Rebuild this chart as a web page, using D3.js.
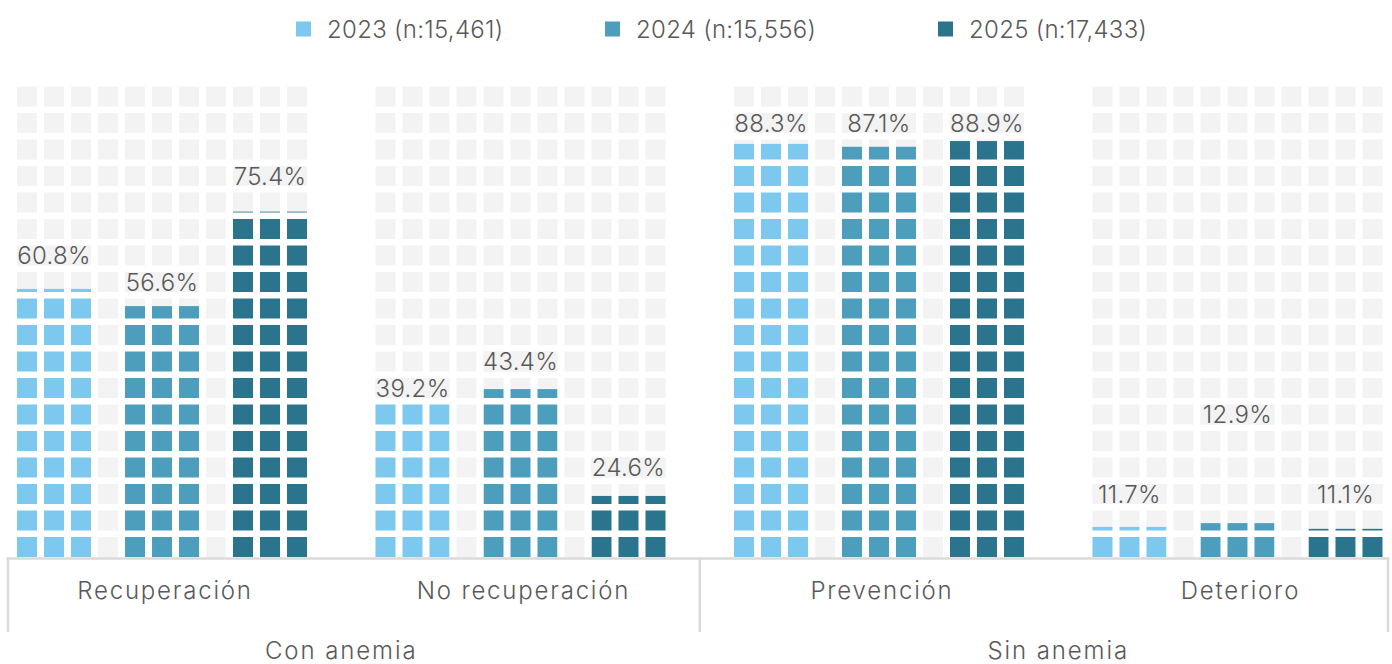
<!DOCTYPE html>
<html><head><meta charset="utf-8">
<script src="https://cdn.jsdelivr.net/npm/d3@7"></script>
<style>
html,body{margin:0;padding:0;background:#fff;}
svg{display:block;font-family:Inter,"Noto Sans",sans-serif;font-weight:300;}
</style></head><body>
<svg id="chart" width="1392" height="664"></svg>
<script>
// ---------- data ----------
const categories = ["Recuperación", "No recuperación", "Prevención", "Deterioro"];
const parentGroups = ["Con anemia", "Con anemia", "Sin anemia", "Sin anemia"];
const superGroups = ["Con anemia", "Sin anemia"];
const years = ["2023", "2024", "2025"];
const sampleSizes = ["15,461", "15,556", "17,433"];
// printed percentages
const pct2023 = [60.8, 39.2, 88.3, 11.7];
const pct2024 = [56.6, 43.4, 87.1, 12.9];
const pct2025 = [75.4, 24.6, 88.9, 11.1];
// fill level of each bar as drawn in the reference (% of the square grid height)
const fill2023 = [56.2, 32.5, 86.6, 6.3];
const fill2024 = [52.6, 35.2, 86.0, 7.1];
const fill2025 = [72.4, 12.8, 87.2, 5.9];

// ---------- styles / layout ----------
const yearColors = ["#7cc8ee", "#4d9ebd", "#2a758d"];
const gridGray = "#f3f3f3";
const axisGray = "#dadada";
const textColor = "#595959";
const fontSize = 24;
const nRows = 18, nCols = 11;

const pcts = [pct2023, pct2024, pct2025];
const fills = [fill2023, fill2024, fill2025];

const svg = d3.select("#chart");
const y = d3.scaleLinear().domain([0, 100]).range([557, 80]);
const x = d3.scaleBand().domain(categories).range([8, 1388])
  .paddingInner(0.1911).paddingOuter(0.0203).align(0.62);
const col = d3.scaleBand().domain(d3.range(nCols)).range([0, x.bandwidth()]).paddingInner(7 / 27);
const rowStep = 100 / nRows;
const rowPx = y(0) - y(rowStep);
const rowGap = rowPx * 6.5 / 26.5;
// label nudges (rows) — layout tweak from the reference
const labelNudge = {"Deterioro|2024": 3};

categories.forEach((c, ci) => {
  const g = svg.append("g").attr("transform", `translate(${x(c)},0)`);
  // gray background
  g.append("rect").attr("x", 0).attr("y", y(100)).attr("width", x.bandwidth())
    .attr("height", y(0) - y(100)).attr("fill", gridGray);
  // bars
  years.forEach((yr, j) => {
    const x0 = col(4 * j), x1 = col(4 * j + 2) + col.bandwidth();
    g.append("rect").attr("x", x0).attr("width", x1 - x0)
      .attr("y", y(fills[j][ci])).attr("height", y(0) - y(fills[j][ci]))
      .attr("fill", yearColors[j]);
  });
  // white gaps – rows
  d3.range(nRows).forEach(r => {
    g.append("rect").attr("x", -1).attr("width", x.bandwidth() + 2)
      .attr("y", y((r + 1) * rowStep)).attr("height", rowGap).attr("fill", "#fff");
  });
  // white gaps – columns
  d3.range(nCols - 1).forEach(k => {
    g.append("rect").attr("x", col(k) + col.bandwidth()).attr("width", col.step() - col.bandwidth())
      .attr("y", y(100)).attr("height", y(0) - y(100)).attr("fill", "#fff");
  });
  // labels
  years.forEach((yr, j) => {
    const x0 = col(4 * j), x1 = col(4 * j + 2) + col.bandwidth();
    const topRow = Math.floor(fills[j][ci] / rowStep);
    const lr = topRow + 1 + (labelNudge[c + "|" + yr] || 0);
    const yTop = y((lr + 1) * rowStep) + rowGap, yBot = y(lr * rowStep);
    g.append("rect").attr("x", x0).attr("width", x1 - x0).attr("y", yTop)
      .attr("height", yBot - yTop).attr("fill", gridGray);
    g.append("text").attr("x", (x0 + x1) / 2).attr("y", (yTop + yBot) / 2).attr("dy", "0.36em")
      .attr("text-anchor", "middle").attr("font-size", fontSize).attr("fill", textColor)
      .attr("letter-spacing", 0.3)
      .text(d3.format(".1f")(pcts[j][ci]) + "%");
  });
});

// category axis
const axisTop = 558.5, tickBottom = 632;
svg.append("line").attr("x1", 6.5).attr("x2", 1389.5).attr("y1", axisTop).attr("y2", axisTop)
  .attr("stroke", axisGray).attr("stroke-width", 2.5);
const midX = (x(categories[1]) + x.bandwidth() + x(categories[2])) / 2;
[x.range()[0], midX, x.range()[1]].forEach(tx => {
  svg.append("line").attr("x1", tx).attr("x2", tx).attr("y1", axisTop).attr("y2", tickBottom)
    .attr("stroke", axisGray).attr("stroke-width", 2.5);
});
categories.forEach(c => {
  svg.append("text").attr("x", x(c) + x.bandwidth() / 2 + 3).attr("y", 590).attr("dy", "0.36em")
    .attr("text-anchor", "middle").attr("font-size", fontSize).attr("fill", textColor)
    .attr("letter-spacing", 1.8).text(c);
});
superGroups.forEach(sg => {
  const members = categories.filter((c, i) => parentGroups[i] === sg);
  const cx = d3.mean(members, c => x(c) + x.bandwidth() / 2);
  svg.append("text").attr("x", cx).attr("y", 650).attr("dy", "0.36em")
    .attr("text-anchor", "middle").attr("font-size", fontSize).attr("fill", textColor)
    .attr("letter-spacing", 1.9).text(sg);
});

// legend
const legendX = [296, 605, 938];
years.forEach((yr, j) => {
  const lg = svg.append("g").attr("transform", `translate(${legendX[j]},29)`);
  lg.append("rect").attr("x", 0).attr("y", -7.5).attr("width", 15).attr("height", 15).attr("fill", yearColors[j]);
  lg.append("text").attr("x", 31).attr("y", 0).attr("dy", "0.36em").attr("font-size", fontSize)
    .attr("fill", textColor).attr("letter-spacing", 0.3).text(`${yr} (n:${sampleSizes[j]})`);
});
</script>
</body></html>
